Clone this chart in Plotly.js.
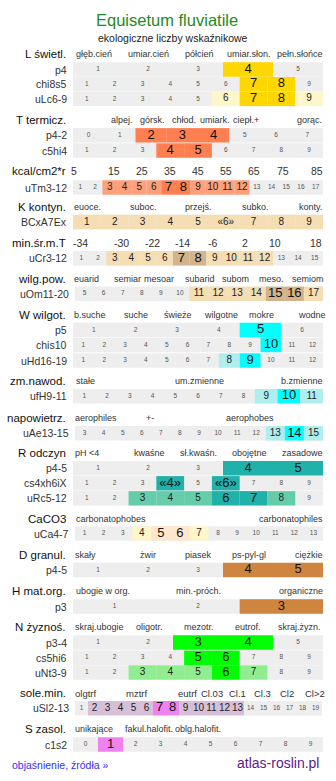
<!DOCTYPE html>
<html><head><meta charset="utf-8">
<script src="https://cdn.plot.ly/plotly-3.0.1.min.js"></script>
<style>html,body{margin:0;padding:0;background:#fff;overflow:hidden}</style>
</head><body>
<div id="chart" style="width:336px;height:781px"></div>
<script>
// ================= DATA =================
const chartTitle = "Equisetum fluviatile";
const chartSubtitle = "ekologiczne liczby wskaźnikowe";

const L_name = "L świetl.";
const L_ticks = ["głęb.cień","umiar.cień","półcień","umiar.słon.","pełn.słońce"];
const L_p4_cells = ["1","2","3","4","5"];
const L_p4_levels = [0,0,0,2,0];
const L_chi_cells = ["1","2","3","4","5","6","7","8","9"];
const L_chi_levels = [0,0,0,0,0,0,2,2,0];
const L_uLc_cells = ["1","2","3","4","5","6","7","8","9"];
const L_uLc_levels = [0,0,0,0,0,1,2,2,1];

const T_name = "T termicz.";
const T_ticks = ["alpej.","górsk.","chłod.","umiark.","ciepł.+","gorąc."];
const T_p_cells = ["0","1","2","3","4","5","6","7"];
const T_p_levels = [0,0,2,2,2,0,0,0];
const T_c_cells = ["1","2","3","4","5","6","7","8","9"];
const T_c_levels = [0,0,0,2,2,0,0,0,0];

const KC_name = "kcal/cm2*r";
const KC_ticks = ["5","15","25","35","45","55","65","75","85"];
const KC_uTm_cells = ["1","2","3","4","5","6","7","8","9","10","11","12","13","14","15","16","17"];
const KC_uTm_levels = [0,0,1,1,1,1,2,2,1,1,1,1,0,0,0,0,0];

const K_name = "K kontyn.";
const K_ticks = ["euoce.","suboc.","przejś.","subko.","konty."];
const K_b_cells = ["1","2","3","4","5","«6»","7","8","9"];
const K_b_levels = [1,1,1,1,1,1,1,1,1];

const MT_name = "min.śr.m.T";
const MT_ticks = ["-34","-30","-22","-14","-6","2","10","18"];
const MT_uCr_cells = ["1","2","3","4","5","6","7","8","9","10","11","12","13","14","15"];
const MT_uCr_levels = [0,0,1,1,1,1,2,2,1,1,1,1,0,0,0];

const WP_name = "wilg.pow.";
const WP_ticks = ["euarid","semiar","mesoar","subarid","subom","meso.","semiom"];
const WP_uOm_cells = ["5","6","7","8","9","10","11","12","13","14","15","16","17"];
const WP_uOm_levels = [0,0,0,0,0,0,1,1,1,1,2,2,1];

const W_name = "W wilgot.";
const W_ticks = ["b.suche","suche","świeże","wilgotne","mokre","wodne"];
const W_p5_cells = ["1","2","3","4","5","6"];
const W_p5_levels = [0,0,0,0,2,0];
const W_chis_cells = ["1","2","3","4","5","6","7","8","9","10","11","12"];
const W_chis_levels = [0,0,0,0,0,0,0,0,0,2,0,0];
const W_uHd_cells = ["1","2","3","4","5","6","7","8","9","10","11","12"];
const W_uHd_levels = [0,0,0,0,0,0,0,1,2,0,0,0];

const ZN_name = "zm.nawod.";
const ZN_ticks = ["stałe","um.zmienne","b.zmienne"];
const ZN_ufH_cells = ["1","2","3","4","5","6","7","8","9","10","11"];
const ZN_ufH_levels = [0,0,0,0,0,0,0,0,1,2,1];

const NP_name = "napowietrz.";
const NP_ticks = ["aerophiles","+-","aerophobes"];
const NP_uAe_cells = ["3","4","5","6","7","8","9","10","11","12","13","14","15"];
const NP_uAe_levels = [0,0,0,0,0,0,0,0,0,0,1,2,1];

const R_name = "R odczyn";
const R_ticks = ["pH <4","kwaśne","sł.kwaśn.","obojętne","zasadowe"];
const R_p_cells = ["1","2","3","4","5"];
const R_p_levels = [0,0,0,2,2];
const R_cs_cells = ["1","2","3","«4»","5","«6»","7","8","9"];
const R_cs_levels = [0,0,0,2,0,2,0,0,0];
const R_uRc_cells = ["1","2","3","4","5","6","7","8","9"];
const R_uRc_levels = [0,0,1,1,1,2,2,1,0];

const CA_name = "CaCO3";
const CA_ticks = ["carbonatophobes","carbonatophiles"];
const CA_uCa_cells = ["1","2","3","4","5","6","7","8","9","10","11","12","13"];
const CA_uCa_levels = [0,0,0,1,2,2,1,0,0,0,0,0,0];

const D_name = "D granul.";
const D_ticks = ["skały","żwir","piasek","ps-pyl-gl","ciężkie"];
const D_p_cells = ["1","2","3","4","5"];
const D_p_levels = [0,0,0,2,2];

const H_name = "H mat.org.";
const H_ticks = ["ubogie w org.","min.-próch.","organiczne"];
const H_p_cells = ["1","2","3"];
const H_p_levels = [0,0,2];

const N_name = "N żyznoś.";
const N_ticks = ["skraj.ubogie","oligotr.","mezotr.","eutrof.","skraj.żyzn."];
const N_p_cells = ["1","2","3","4","5"];
const N_p_levels = [0,0,2,2,0];
const N_cs_cells = ["1","2","3","4","5","6","7","8","9"];
const N_cs_levels = [0,0,0,0,2,2,0,0,0];
const N_uNt_cells = ["1","2","3","4","5","6","7","8","9"];
const N_uNt_levels = [0,0,1,1,1,2,1,0,0];

const SM_name = "sole.min.";
const SM_ticks = ["olgtrf","mztrf","eutrf","Cl.03","Cl.1","Cl.3","Cl2","Cl>2"];
const SM_uSl_cells = ["1","2","3","4","5","6","7","8","9","10","11","12","13","14","15","16","17","18","19"];
const SM_uSl_levels = [0,1,1,1,1,1,2,2,1,1,1,1,1,0,0,0,0,0,0];

const S_name = "S zasol.";
const S_ticks = ["unikające","fakul.halofit.","oblg.halofit."];
const S_c_cells = ["0","1","2","3","4","5","6","7","8","9"];
const S_c_levels = [0,2,0,0,0,0,0,0,0,0];

const footerLeft = "objaśnienie, źródła »";
const footerRight = "atlas-roslin.pl";

// ================= LAYOUT / STYLE =================
const FONT = "Liberation Sans, Arial, Helvetica, sans-serif";
const GRAY = "#eeeeee";
const groups = [
  {name:L_name, ticks:L_ticks, ny:54, tx:[74,126,183,225,275], light:"#fff7cc", main:"#ffd700", rows:[
    {label:"p4", cells:L_p4_cells, levels:L_p4_levels, y:69.5},
    {label:"chi8s5", cells:L_chi_cells, levels:L_chi_levels, y:84.2},
    {label:"uLc6-9", cells:L_uLc_cells, levels:L_uLc_levels, y:98.9}]},
  {name:T_name, ticks:T_ticks, ny:120, tx:[109,138,170,198,231,295], light:"#ffa07a", main:"#ff7f50", rows:[
    {label:"p4-2", cells:T_p_cells, levels:T_p_levels, y:135.3},
    {label:"c5hi4", cells:T_c_cells, levels:T_c_levels, y:150.5}]},
  {name:KC_name, ticks:KC_ticks, ny:171, tx:[74,114,142,170,198,226,254,282.5,316.5], tsize:10.5, tcenter:true, light:"#ffa07a", main:"#ff7f50", rows:[
    {label:"uTm3-12", cells:KC_uTm_cells, levels:KC_uTm_levels, y:187.5}]},
  {name:K_name, ticks:K_ticks, ny:206.7, tx:[72,128,183,240,297], light:"#f5deb3", main:"#d2b48c", rows:[
    {label:"BCxA7Ex", cells:K_b_cells, levels:K_b_levels, y:222}]},
  {name:MT_name, ticks:MT_ticks, ny:243.3, tx:[80.5,121.5,152.5,182.5,212.5,244.5,275,316], tsize:10.5, tcenter:true, light:"#f5deb3", main:"#d2b48c", rows:[
    {label:"uCr3-12", cells:MT_uCr_cells, levels:MT_uCr_levels, y:258.3}]},
  {name:WP_name, ticks:WP_ticks, ny:279, tx:[72,112,142,183,220,257,290], light:"#f5deb3", main:"#d2b48c", rows:[
    {label:"uOm11-20", cells:WP_uOm_cells, levels:WP_uOm_levels, y:293.8, x0:75}]},
  {name:W_name, ticks:W_ticks, ny:315, tx:[72,122,162,202,247,296], light:"#afeeee", main:"#00ffff", rows:[
    {label:"p5", cells:W_p5_cells, levels:W_p5_levels, y:330},
    {label:"chis10", cells:W_chis_cells, levels:W_chis_levels, y:345},
    {label:"uHd16-19", cells:W_uHd_cells, levels:W_uHd_levels, y:360.5}]},
  {name:ZN_name, ticks:ZN_ticks, ny:381, tx:[74,173,279], light:"#afeeee", main:"#00ffff", rows:[
    {label:"ufH9-11", cells:ZN_ufH_cells, levels:ZN_ufH_levels, y:396.2}]},
  {name:NP_name, ticks:NP_ticks, ny:417.7, tx:[73,144,224], light:"#afeeee", main:"#00ffff", rows:[
    {label:"uAe13-15", cells:NP_uAe_cells, levels:NP_uAe_levels, y:433.3, x0:75}]},
  {name:R_name, ticks:R_ticks, ny:452.7, tx:[73,132,178,230,280], light:"#66cdaa", main:"#20b2aa", rows:[
    {label:"p4-5", cells:R_p_cells, levels:R_p_levels, y:468.3},
    {label:"cs4xh6iX", cells:R_cs_cells, levels:R_cs_levels, y:483.3},
    {label:"uRc5-12", cells:R_uRc_cells, levels:R_uRc_levels, y:498.3}]},
  {name:CA_name, ticks:CA_ticks, ny:519, tx:[74,257], light:"#fff6cc", main:"#ffe6cc", rows:[
    {label:"uCa4-7", cells:CA_uCa_cells, levels:CA_uCa_levels, y:533.5, x0:75}]},
  {name:D_name, ticks:D_ticks, ny:555, tx:[73,138,183,230,293], light:"#cd853f", main:"#cd853f", rows:[
    {label:"p4-5", cells:D_p_cells, levels:D_p_levels, y:570}]},
  {name:H_name, ticks:H_ticks, ny:591, tx:[74,174,277], light:"#cd853f", main:"#cd853f", rows:[
    {label:"p3", cells:H_p_cells, levels:H_p_levels, y:606.5}]},
  {name:N_name, ticks:N_ticks, ny:627.3, tx:[73,134,182,233,276], light:"#90ee90", main:"#00ff00", rows:[
    {label:"p3-4", cells:N_p_cells, levels:N_p_levels, y:642.5},
    {label:"cs5hi6", cells:N_cs_cells, levels:N_cs_levels, y:657.8},
    {label:"uNt3-9", cells:N_uNt_cells, levels:N_uNt_levels, y:672.5}]},
  {name:SM_name, ticks:SM_ticks, ny:693.3, tx:[73,124,176,199,227,252,278,303], tsize:9.5, light:"#d8bfd8", main:"#ee82ee", rows:[
    {label:"uSl2-13", cells:SM_uSl_cells, levels:SM_uSl_levels, y:708.2, x0:75, x1:322}]},
  {name:S_name, ticks:S_ticks, ny:729.3, tx:[73,123,173], light:"#d8bfd8", main:"#ee82ee", rows:[
    {label:"c1s2", cells:S_c_cells, levels:S_c_levels, y:744.5}]}
];

const ROW_H = 14.4;
const TXT_SIZE = [6.5, 10, 13];
const TXT_COL = ["#555555", "#222222", "#111111"];

const bgY=[], bgBase=[], bgW=[];
const cY=[], cBase=[], cW=[], cCol=[];
const tX=[], tY=[], tText=[], tSize=[], tColor=[];
const annotations = [];

groups.forEach(g => {
  annotations.push({x:68, y:g.ny, xref:"x", yref:"y", text:g.name, showarrow:false,
    xanchor:"right", yanchor:"middle", font:{family:FONT, size:11.5, color:"#111"}});
  g.ticks.forEach((t,i) => {
    annotations.push({x:g.tx[i], y:g.ny, xref:"x", yref:"y", text:t, showarrow:false,
      xanchor:g.tcenter ? "center" : "left", yanchor:"middle",
      font:{family:FONT, size:g.tsize || 9, color:"#333"}});
  });
  g.rows.forEach(r => {
    const x0 = r.x0 || 73, x1 = r.x1 || 323;
    const n = r.cells.length, w = (x1 - x0) / n;
    bgY.push(r.y); bgBase.push(x0); bgW.push(x1 - x0);
    annotations.push({x:x0 - 4, y:r.y, xref:"x", yref:"y", text:r.label, showarrow:false,
      xanchor:"right", yanchor:"middle", font:{family:FONT, size:10.5, color:"#333"}});
    r.cells.forEach((c,i) => {
      const lv = r.levels[i];
      if (lv > 0) {
        cY.push(r.y); cBase.push(x0 + i*w); cW.push(w);
        cCol.push(lv === 2 ? g.main : g.light);
      }
      tX.push(x0 + (i + 0.5)*w); tY.push(r.y); tText.push(c);
      tSize.push(TXT_SIZE[lv]); tColor.push(TXT_COL[lv]);
    });
  });
});

annotations.push({x:167, y:20, xref:"x", yref:"y", text:chartTitle, showarrow:false,
  xanchor:"center", yanchor:"middle", font:{family:FONT, size:16.5, color:"#1f8a1f"}});
annotations.push({x:172.5, y:38, xref:"x", yref:"y", text:chartSubtitle, showarrow:false,
  xanchor:"center", yanchor:"middle", font:{family:FONT, size:10.5, color:"#222"}});
annotations.push({x:10, y:765, xref:"x", yref:"y", text:footerLeft, showarrow:false,
  xanchor:"left", yanchor:"middle", font:{family:FONT, size:10.5, color:"#3333ee"}});
annotations.push({x:321, y:762.5, xref:"x", yref:"y", text:footerRight, showarrow:false,
  xanchor:"right", yanchor:"middle", font:{family:FONT, size:14, color:"#5a1a8a"}});

const traces = [
  {type:"bar", orientation:"h", y:bgY, base:bgBase, x:bgW, width:bgY.map(()=>ROW_H),
   marker:{color:GRAY, line:{width:0}}, hoverinfo:"skip", showlegend:false},
  {type:"bar", orientation:"h", y:cY, base:cBase, x:cW, width:cY.map(()=>ROW_H),
   marker:{color:cCol, line:{width:0}}, hoverinfo:"skip", showlegend:false},
  {type:"scatter", mode:"text", x:tX, y:tY, text:tText,
   textfont:{family:FONT, size:tSize, color:tColor}, textposition:"middle center",
   hoverinfo:"skip", showlegend:false, cliponaxis:false}
];

const layout = {
  width:336, height:781, margin:{l:0, r:0, t:0, b:0},
  paper_bgcolor:"#ffffff", plot_bgcolor:"#ffffff",
  barmode:"overlay", showlegend:false, hovermode:false,
  xaxis:{range:[0,336], visible:false, fixedrange:true},
  yaxis:{range:[781,0], visible:false, fixedrange:true},
  annotations:annotations
};

Plotly.newPlot("chart", traces, layout, {staticPlot:true, displayModeBar:false});
</script>
</body></html>
